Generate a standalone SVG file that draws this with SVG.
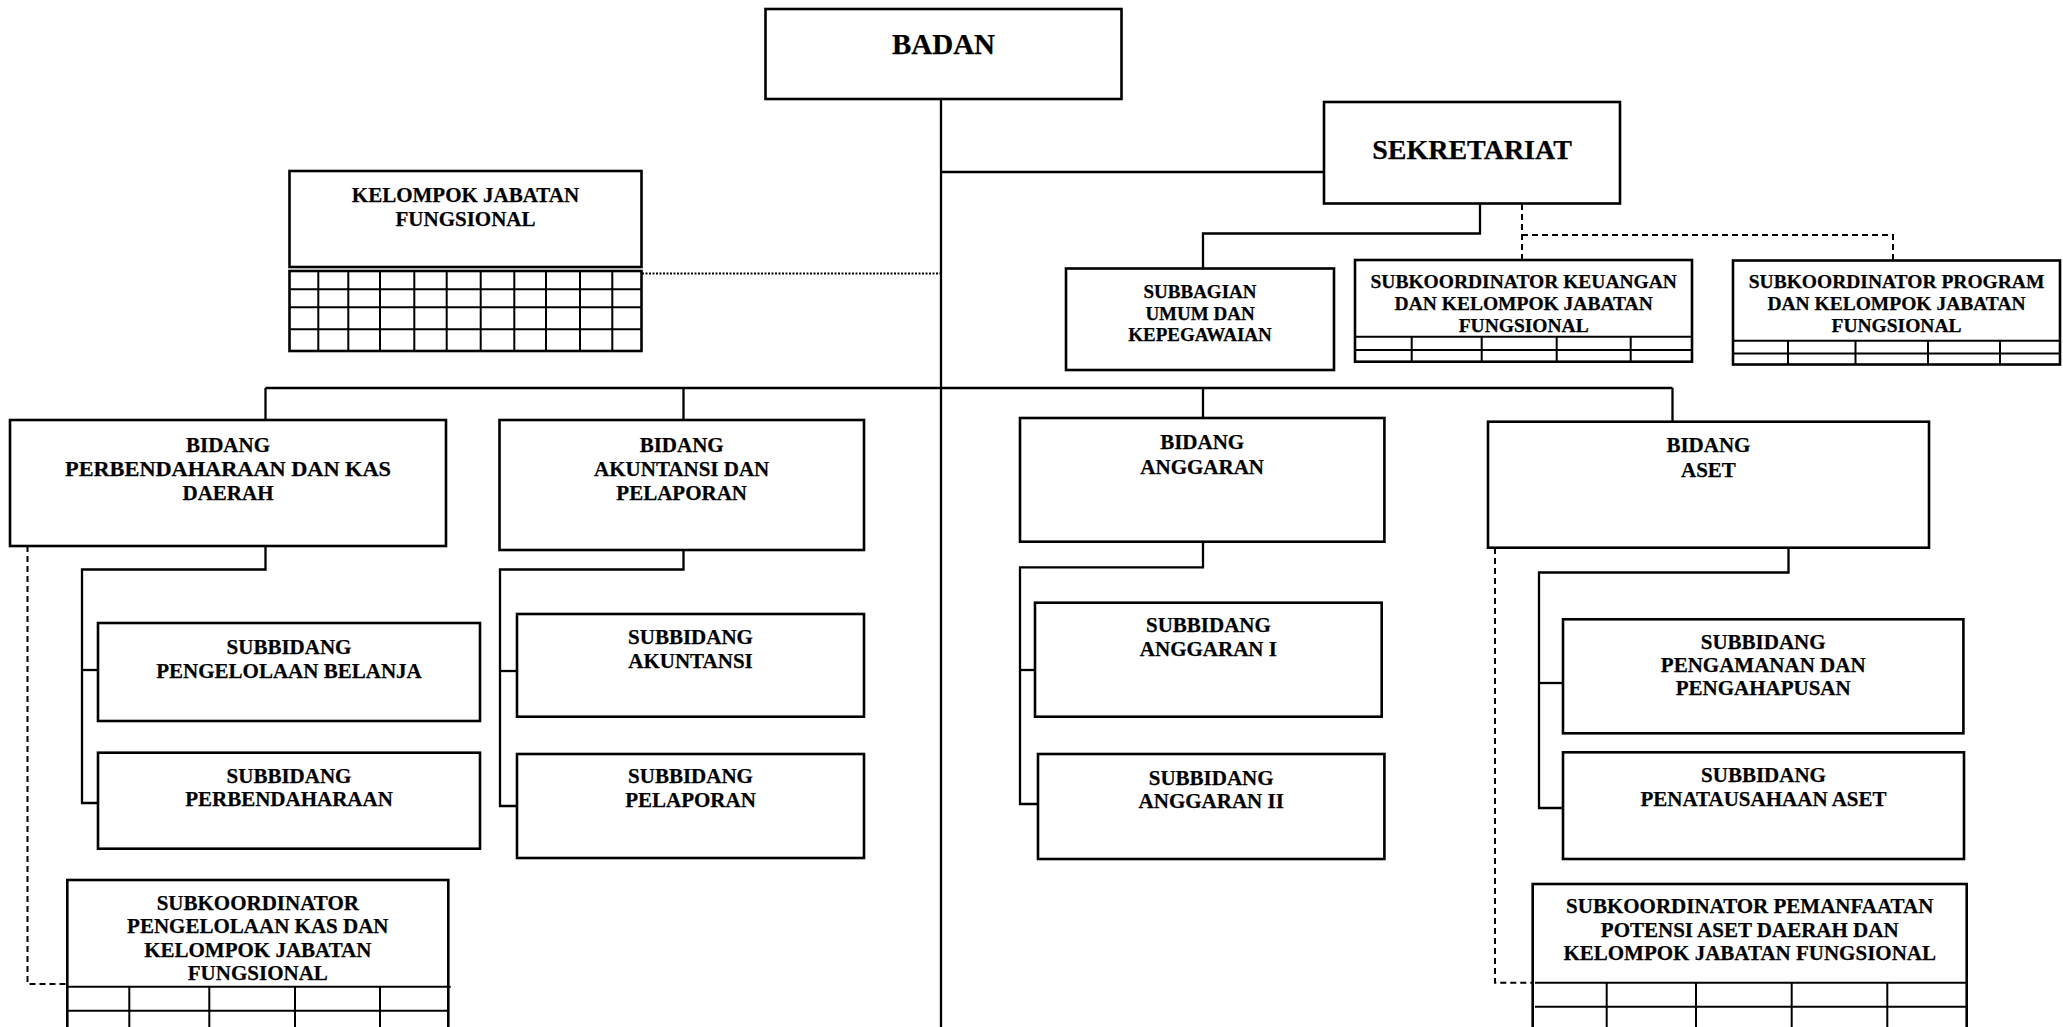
<svg xmlns="http://www.w3.org/2000/svg" width="2063" height="1027" viewBox="0 0 2063 1027">
<style>
.box{fill:#fff;stroke:#000;stroke-width:2.6}
.grid{fill:none;stroke:#000;stroke-width:2}
.ln{fill:none;stroke:#000;stroke-width:2.3}
.dash{fill:none;stroke:#000;stroke-width:2;stroke-dasharray:6 4}
.dot{fill:none;stroke:#000;stroke-width:2.2;stroke-dasharray:2 1.5}
text{font-family:"Liberation Serif","Times New Roman",serif;font-weight:bold;font-size:21px;text-anchor:middle;fill:#000;stroke:#000;stroke-width:0.25}
.t1{font-size:29px}
.t0{font-size:28px}
.t2{font-size:19.5px}
.t3{font-size:19px}
</style>
<rect width="2063" height="1027" fill="#fff"/>
<g id="connectors">
<path class="ln" d="M941 99 V1027"/>
<path class="ln" d="M941 172 H1324"/>
<path class="dot" d="M642 273.5 H940"/>
<path class="ln" d="M1480 204 V233.5 H1203 V268.5"/>
<path class="dash" d="M1522 204 V260"/>
<path class="dash" d="M1522 235 H1893 V260.5"/>
<path class="ln" d="M265.5 388 H1672.5"/>
<path class="ln" d="M265.5 388 V420"/>
<path class="ln" d="M683.5 388 V420"/>
<path class="ln" d="M1203 388 V418"/>
<path class="ln" d="M1672.5 388 V421.7"/>
<path class="ln" d="M265.5 546 V569.5 H82 V803 H98"/>
<path class="ln" d="M82 670 H98"/>
<path class="ln" d="M683.5 550 V569.5 H500 V806 H517"/>
<path class="ln" d="M500 671 H517"/>
<path class="ln" d="M1203 541.7 V567.3 H1020 V804 H1038"/>
<path class="ln" d="M1020 670 H1035"/>
<path class="ln" d="M1788.5 547.7 V572.5 H1539 V808 H1563"/>
<path class="ln" d="M1539 683 H1563"/>
<path class="dash" d="M27.5 546 V984 H67"/>
<path class="dash" d="M1495 548 V982.7 H1532"/>
</g>
<g id="badan">
<rect class="box" x="765.5" y="9" width="356" height="90"/>
<text class="t1" x="943.5" y="54">BADAN</text>
</g>
<g id="sekretariat">
<rect class="box" x="1324" y="102" width="296" height="101.5"/>
<text class="t0" x="1472" y="159">SEKRETARIAT</text>
</g>
<g id="kelompok-jf">
<rect class="box" x="289.5" y="171" width="352" height="96"/>
<rect class="box" x="289.5" y="271" width="352" height="80"/>
<path class="grid" d="M289.5 289.3 H641.5 M289.5 307.3 H641.5 M289.5 329.3 H641.5 M318.3 271 V351 M348.3 271 V351 M380 271 V351 M414.3 271 V351 M446.7 271 V351 M480.7 271 V351 M514.3 271 V351 M546 271 V351 M580 271 V351 M612.3 271 V351"/>
<text x="465.5" y="201.7">KELOMPOK JABATAN</text>
<text x="465.5" y="225.5">FUNGSIONAL</text>
</g>
<g id="subbagian-umum">
<rect class="box" x="1066" y="268.5" width="268" height="101.5"/>
<text class="t3" x="1200" y="298">SUBBAGIAN</text>
<text class="t3" x="1200" y="319.5">UMUM DAN</text>
<text class="t3" x="1200" y="341">KEPEGAWAIAN</text>
</g>
<g id="subkoor-keuangan">
<rect class="box" x="1355" y="260" width="337" height="101.7"/>
<path class="grid" d="M1355 336.7 H1692 M1355 350 H1692 M1411.7 336.7 V361.7 M1481.7 336.7 V361.7 M1556.7 336.7 V361.7 M1630.7 336.7 V361.7"/>
<text class="t2" x="1523.7" y="288">SUBKOORDINATOR KEUANGAN</text>
<text class="t2" x="1523.7" y="310">DAN KELOMPOK JABATAN</text>
<text class="t2" x="1523.7" y="332">FUNGSIONAL</text>
</g>
<g id="subkoor-program">
<rect class="box" x="1733" y="260.5" width="327" height="104"/>
<path class="grid" d="M1733 340.8 H2060 M1733 353.5 H2060 M1788 340.8 V364.5 M1855.5 340.8 V364.5 M1928 340.8 V364.5 M2000 340.8 V364.5"/>
<text class="t2" x="1896.5" y="288">SUBKOORDINATOR PROGRAM</text>
<text class="t2" x="1896.5" y="310">DAN KELOMPOK JABATAN</text>
<text class="t2" x="1896.5" y="332">FUNGSIONAL</text>
</g>
<g id="bidang-perbendaharaan">
<rect class="box" x="10" y="420" width="436" height="126"/>
<text x="228" y="451.5">BIDANG</text>
<text x="228" y="475.5" textLength="326" lengthAdjust="spacingAndGlyphs">PERBENDAHARAAN DAN KAS</text>
<text x="228" y="500">DAERAH</text>
</g>
<g id="bidang-akuntansi">
<rect class="box" x="499.5" y="420" width="364.5" height="130"/>
<text x="681.7" y="451.5">BIDANG</text>
<text x="681.7" y="475.5">AKUNTANSI DAN</text>
<text x="681.7" y="500">PELAPORAN</text>
</g>
<g id="bidang-anggaran">
<rect class="box" x="1020" y="418" width="364.4" height="123.7"/>
<text x="1202.2" y="449">BIDANG</text>
<text x="1202.2" y="474">ANGGARAN</text>
</g>
<g id="bidang-aset">
<rect class="box" x="1488" y="421.7" width="441" height="126"/>
<text x="1708.4" y="451.5">BIDANG</text>
<text x="1708.4" y="476.5">ASET</text>
</g>
<g id="subbidang-belanja">
<rect class="box" x="98" y="623" width="382" height="98"/>
<text x="289" y="654">SUBBIDANG</text>
<text x="289" y="678">PENGELOLAAN BELANJA</text>
</g>
<g id="subbidang-perbendaharaan">
<rect class="box" x="98" y="752.7" width="382" height="96"/>
<text x="289" y="783">SUBBIDANG</text>
<text x="289" y="806">PERBENDAHARAAN</text>
</g>
<g id="subbidang-akuntansi">
<rect class="box" x="517" y="614" width="347" height="102.7"/>
<text x="690.5" y="643.8">SUBBIDANG</text>
<text x="690.5" y="667.5">AKUNTANSI</text>
</g>
<g id="subbidang-pelaporan">
<rect class="box" x="517" y="754" width="347" height="104"/>
<text x="690.5" y="783">SUBBIDANG</text>
<text x="690.5" y="807">PELAPORAN</text>
</g>
<g id="subbidang-anggaran-1">
<rect class="box" x="1035" y="602.7" width="346.7" height="114"/>
<text x="1208.4" y="632">SUBBIDANG</text>
<text x="1208.4" y="655.6">ANGGARAN I</text>
</g>
<g id="subbidang-anggaran-2">
<rect class="box" x="1038" y="754" width="346.4" height="105"/>
<text x="1211.2" y="784.6">SUBBIDANG</text>
<text x="1211.2" y="808">ANGGARAN II</text>
</g>
<g id="subbidang-pengamanan">
<rect class="box" x="1563" y="619.3" width="400.4" height="114"/>
<text x="1763.2" y="649">SUBBIDANG</text>
<text x="1763.2" y="671.5">PENGAMANAN DAN</text>
<text x="1763.2" y="695">PENGAHAPUSAN</text>
</g>
<g id="subbidang-penatausahaan">
<rect class="box" x="1563" y="752.3" width="401" height="106.7"/>
<text x="1763.5" y="782">SUBBIDANG</text>
<text x="1763.5" y="805.6">PENATAUSAHAAN ASET</text>
</g>
<g id="subkoor-kas">
<rect class="box" x="67.3" y="880" width="381" height="160"/>
<path class="grid" d="M67.3 986.7 H450.7 M67.3 1010.7 H448.3 M129.3 986.7 V1030 M209.3 986.7 V1030 M295 986.7 V1030 M380 986.7 V1030"/>
<text x="257.8" y="910">SUBKOORDINATOR</text>
<text x="257.8" y="933">PENGELOLAAN KAS DAN</text>
<text x="257.8" y="957">KELOMPOK JABATAN</text>
<text x="257.8" y="980">FUNGSIONAL</text>
</g>
<g id="subkoor-pemanfaatan">
<rect class="box" x="1532.7" y="884" width="434" height="160"/>
<path class="grid" d="M1535 982.7 H1966.7 M1535 1006.7 H1966.7 M1606.7 982.7 V1030 M1696 982.7 V1030 M1791.7 982.7 V1030 M1887.3 982.7 V1030"/>
<text x="1749.7" y="913.3">SUBKOORDINATOR PEMANFAATAN</text>
<text x="1749.7" y="936.7">POTENSI ASET DAERAH DAN</text>
<text x="1749.7" y="960">KELOMPOK JABATAN FUNGSIONAL</text>
</g>
</svg>
